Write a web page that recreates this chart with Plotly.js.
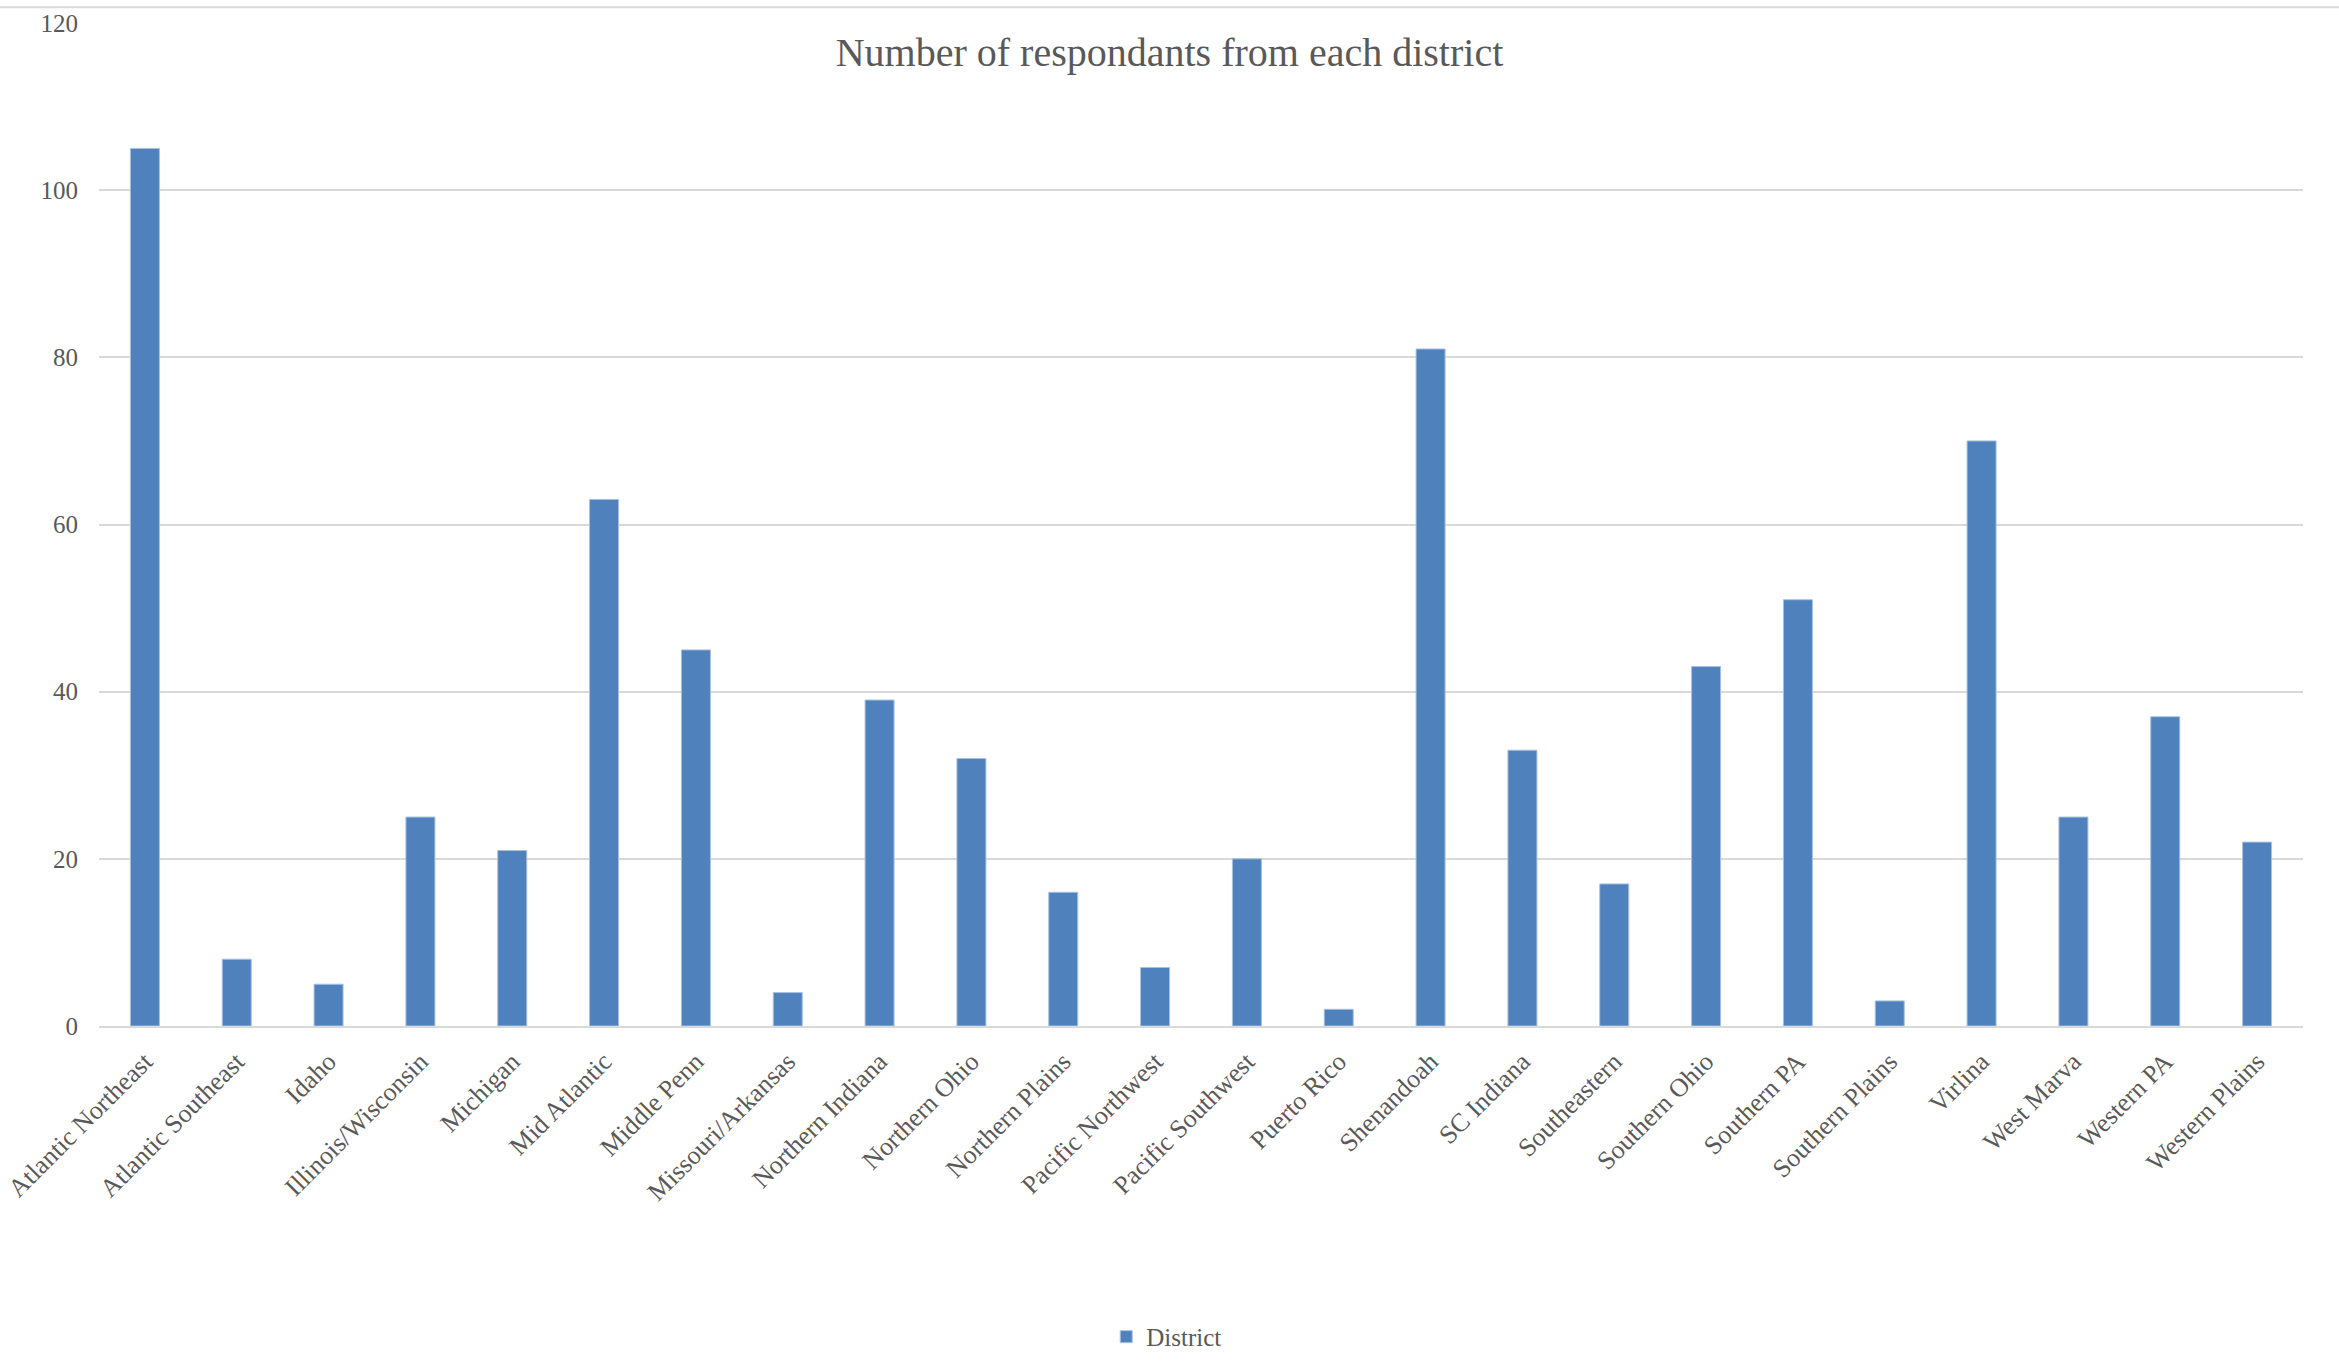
<!DOCTYPE html>
<html>
<head>
<meta charset="utf-8">
<script src="https://cdn.plot.ly/plotly-3.0.1.min.js"></script>
<style>
html,body{margin:0;padding:0;background:#fff;}
#chart{width:2339px;height:1372px;}
</style>
</head>
<body>
<div id="chart"></div>
<script>
const categories = ["Atlantic Northeast","Atlantic Southeast","Idaho","Illinois/Wisconsin","Michigan","Mid Atlantic","Middle Penn","Missouri/Arkansas","Northern Indiana","Northern Ohio","Northern Plains","Pacific Northwest","Pacific Southwest","Puerto Rico","Shenandoah","SC Indiana","Southeastern","Southern Ohio","Southern PA","Southern Plains","Virlina","West Marva","Western PA","Western Plains"];
const districtValues = [105,8,5,25,21,63,45,4,39,32,16,7,20,2,81,33,17,43,51,3,70,25,37,22];
const yTickValues = [0,20,40,60,80,100,120];
const seriesName = "District";
const chartTitle = "Number of respondants from each district";

const fontFamily = "'Liberation Serif', 'DejaVu Serif', serif";
const textColor = "#595959";

const data = [{
  type: "bar",
  x: categories,
  y: districtValues,
  name: seriesName,
  marker: {color: "#4F81BD", line: {color: "#A9C1E0", width: 1}},
  hoverinfo: "x+y"
}];

const layout = {
  width: 2339,
  height: 1372,
  paper_bgcolor: "#ffffff",
  plot_bgcolor: "#ffffff",
  margin: {l: 99, r: 36, t: 23, b: 335},
  bargap: 0.684,
  showlegend: true,
  title: {
    text: chartTitle,
    font: {family: fontFamily, size: 40, color: textColor},
    x: 0.5, xref: "container", xanchor: "center",
    y: 1 - 52/1372, yref: "container", yanchor: "middle"
  },
  xaxis: {
    type: "category",
    tickangle: -45,
    tickfont: {family: fontFamily, size: 26, color: textColor},
    showgrid: false,
    showline: true,
    linecolor: "#D9D9D9",
    linewidth: 2,
    ticks: "",
    ticklabelstandoff: 8,
    automargin: false
  },
  yaxis: {
    range: [0, 120],
    tickvals: yTickValues,
    ticktext: yTickValues.map(String),
    tickfont: {family: fontFamily, size: 25, color: textColor},
    showgrid: true,
    gridcolor: "#D9D9D9",
    gridwidth: 2,
    zeroline: false,
    showline: false,
    ticks: "",
    ticklabelstandoff: 20,
    automargin: false
  },
  legend: {
    orientation: "h",
    x: 0.457, xanchor: "left",
    y: -0.310, yanchor: "middle",
    font: {family: fontFamily, size: 25, color: textColor},
    itemwidth: 30
  },
  shapes: [{
    type: "line",
    xref: "paper", yref: "paper",
    x0: -0.05, x1: 1.02,
    y0: (1037-7)/1014, y1: (1037-7)/1014,
    line: {color: "#D9D9D9", width: 2}
  }]
};

Plotly.newPlot("chart", data, layout, {displayModeBar: false});
</script>
</body>
</html>
